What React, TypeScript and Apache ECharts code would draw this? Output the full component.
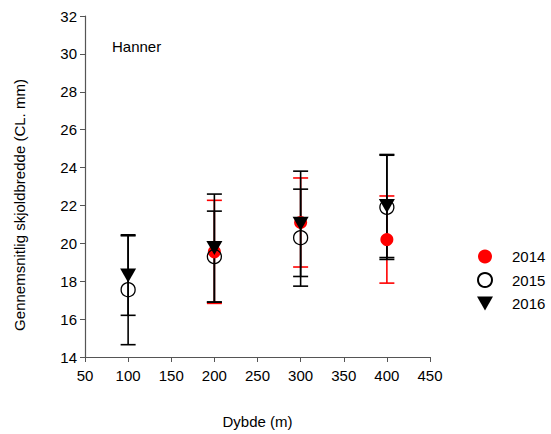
import React, { useEffect, useRef } from "react";
import * as echarts from "echarts";

const depths = [100, 200, 300, 400];
const mean2014: (number | null)[] = [null, 19.55, 21.1, 20.2];
const err2014: (number | null)[] = [null, 2.72, 2.35, 2.3];
const mean2015 = [17.55, 19.3, 20.3, 21.9];
const err2015 = [2.9, 2.4, 2.56, 2.75];
const mean2016 = [18.3, 19.75, 21.03, 21.97];
const err2016 = [2.1, 2.85, 2.78, 2.72];
const seriesNames = ["2014", "2015", "2016"];

const FONT = "Liberation Sans, Arial, sans-serif";
const FS = 15;

function points(means: (number | null)[]) {
  return depths
    .map((d, i) => (means[i] == null ? null : [d, means[i]]))
    .filter((p) => p !== null) as number[][];
}
function bars(means: (number | null)[], errs: (number | null)[]) {
  return depths
    .map((d, i) =>
      means[i] == null || errs[i] == null
        ? null
        : [d, (means[i] as number) - (errs[i] as number), (means[i] as number) + (errs[i] as number)]
    )
    .filter((p) => p !== null) as number[][];
}

function errSeries(data: number[][], color: string) {
  return {
    type: "custom",
    z: 1,
    silent: true,
    data,
    renderItem: (params: any, api: any) => {
      const x = api.value(0);
      const lo = api.coord([x, api.value(1)]);
      const hi = api.coord([x, api.value(2)]);
      const hw = 7.5;
      const style = { stroke: color, lineWidth: 1.6 };
      return {
        type: "group",
        children: [
          { type: "line", shape: { x1: lo[0], y1: lo[1], x2: hi[0], y2: hi[1] }, style },
          { type: "line", shape: { x1: lo[0] - hw, y1: lo[1], x2: lo[0] + hw, y2: lo[1] }, style },
          { type: "line", shape: { x1: hi[0] - hw, y1: hi[1], x2: hi[0] + hw, y2: hi[1] }, style },
        ],
      };
    },
  };
}

export default function App() {
  const ref = useRef<HTMLDivElement>(null);
  useEffect(() => {
    if (!ref.current) return;
    const chart = echarts.init(ref.current, null, { renderer: "svg" });
    const axisLine = { show: true, lineStyle: { color: "#555", width: 1.2 } };
    chart.setOption({
      animation: false,
      backgroundColor: "#fff",
      textStyle: { fontFamily: FONT },
      grid: { left: 85, right: 121, top: 16, bottom: 74 },
      xAxis: {
        type: "value",
        min: 50,
        max: 450,
        interval: 50,
        name: "Dybde (m)",
        nameLocation: "middle",
        nameGap: 57,
        nameTextStyle: { color: "#000", fontSize: FS, fontFamily: FONT },
        axisLine,
        axisTick: { show: true, inside: false, length: 5, lineStyle: { color: "#555" } },
        axisLabel: { color: "#000", fontSize: FS, margin: 11, fontFamily: FONT },
        splitLine: { show: false },
      },
      yAxis: {
        type: "value",
        min: 14,
        max: 32,
        interval: 2,
        axisLine,
        axisTick: { show: true, inside: false, length: 5, lineStyle: { color: "#555" } },
        axisLabel: { color: "#000", fontSize: FS, margin: 8, fontFamily: FONT },
        splitLine: { show: false },
      },
      legend: {
        orient: "vertical",
        left: 472,
        top: 244,
        itemWidth: 16,
        itemHeight: 14,
        itemGap: 8,
        data: seriesNames,
        textStyle: { color: "#000", fontSize: FS, fontFamily: FONT, padding: [0, 0, 0, 14] },
      },
      graphic: [
        {
          type: "text",
          left: 112,
          top: 39,
          style: { text: "Hanner", fill: "#000", font: FS + "px " + FONT },
        },
        {
          type: "text",
          x: 19,
          y: 205,
          rotation: Math.PI / 2,
          style: {
            text: "Gennemsnitlig skjoldbredde (CL. mm)",
            fill: "#000",
            font: FS + "px " + FONT,
            align: "center",
            verticalAlign: "middle",
          },
        },
      ],
      series: [
        errSeries(bars(mean2014, err2014), "#ff0000"),
        errSeries(bars(mean2015, err2015), "#000"),
        errSeries(bars(mean2016, err2016), "#000"),
        {
          name: "2014",
          type: "scatter",
          z: 3,
          symbol: "circle",
          symbolSize: 13,
          itemStyle: { color: "#ff0000", opacity: 1 },
          data: points(mean2014),
        },
        {
          name: "2015",
          type: "scatter",
          z: 4,
          symbol: "circle",
          symbolSize: 14,
          itemStyle: { color: "rgba(255,255,255,0)", borderColor: "#000", borderWidth: 1.3, opacity: 1 },
          data: points(mean2015),
        },
        {
          name: "2016",
          type: "scatter",
          z: 5,
          symbol: "path://M0,0L16,0L8,14Z",
          symbolSize: [16, 14],
          itemStyle: { color: "#000", opacity: 1 },
          data: points(mean2016),
        },
      ],
    });
    return () => chart.dispose();
  }, []);
  return (
    <div
      ref={ref}
      style={{ position: "absolute", left: 0, top: 0, width: 551, height: 434 }}
    />
  );
}
